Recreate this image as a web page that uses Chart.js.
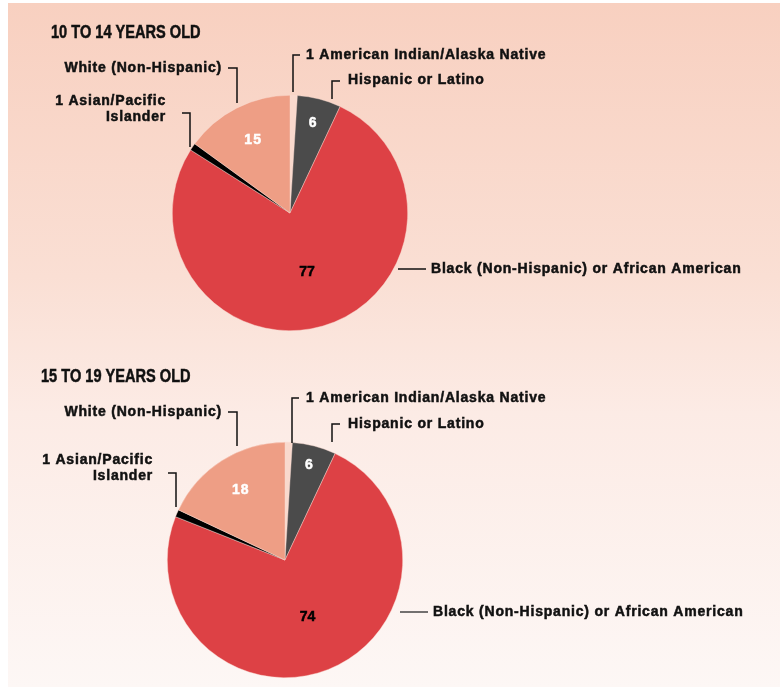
<!DOCTYPE html>
<html>
<head>
<meta charset="utf-8">
<script src="https://cdn.jsdelivr.net/npm/chart.js@4.4.1/dist/chart.umd.min.js"></script>
<style>
  html, body { margin: 0; padding: 0; background: #fff; }
  #page { position: relative; width: 780px; height: 688px; overflow: hidden; }
  #panel {
    position: absolute; left: 8px; top: 3px; width: 772px; height: 684px;
    background: linear-gradient(to bottom, #f8d0c0 0%, #fadfd4 40%, #fcebe5 60%, #fdf7f5 100%);
  }
  .box { position: absolute; left: 0; width: 780px; height: 344px; }
  #box1 { top: 0; }
  #box2 { top: 344px; }
</style>
</head>
<body>
<div id="page">
  <div id="panel"></div>
  <div class="box" id="box1"><canvas id="pieYoung"></canvas></div>
  <div class="box" id="box2"><canvas id="pieOlder"></canvas></div>
</div>
<script>
// Share of each group, percent
const groups = [
  'American Indian/Alaska Native',
  'Hispanic or Latino',
  'Black (Non-Hispanic) or African American',
  'Asian/Pacific Islander',
  'White (Non-Hispanic)'
];
const ages10to14 = [1, 6, 77, 1, 15];
const ages15to19 = [1, 6, 74, 1, 18];

const sliceColors = ['#f9d9cd', '#4b4b4b', '#dd4145', '#000000', '#ee9e85'];
const valueColors = ['#000', '#fff', '#000', '#000', '#fff'];

const labelFont = 'bold 14px "Liberation Sans", Arial, sans-serif';
const titleFont = 'bold 18px "Liberation Sans", Arial, sans-serif';

// heavier text: fill plus a thin stroke of the same colour
function boldText(ctx, t, x, y, color) {
  ctx.fillStyle = color;
  ctx.strokeStyle = color;
  ctx.lineWidth = 0.5;
  ctx.fillText(t, x, y);
  ctx.strokeText(t, x, y);
}

// Draws the title, the in-slice numbers and the callout labels
const calloutPlugin = {
  id: 'callouts',
  afterDraw(chart, args, opts) {
    const ctx = chart.ctx;
    const meta = chart.getDatasetMeta(0);
    const cx = meta.data[0].x, cy = meta.data[0].y, r = meta.data[0].outerRadius;
    const values = chart.data.datasets[0].data;

    ctx.save();
    // title, squeezed horizontally to a condensed look
    ctx.save();
    ctx.font = titleFont;
    ctx.textBaseline = 'middle';
    ctx.textAlign = 'left';
    ctx.translate(opts.titleX, opts.titleY);
    ctx.scale(0.81, 1);
    boldText(ctx, opts.title, 0, 0, '#111');
    ctx.restore();

    ctx.textBaseline = 'middle';
    // values inside slices
    meta.data.forEach((arc, i) => {
      const f = opts.valueRadius[i];
      if (!f) return;
      const mid = (arc.startAngle + arc.endAngle) / 2;
      const x = cx + Math.cos(mid) * r * f;
      const y = cy + Math.sin(mid) * r * f;
      ctx.font = labelFont;
      ctx.letterSpacing = valueColors[i] === '#fff' ? '1px' : '0px';
      ctx.textAlign = 'center';
      boldText(ctx, String(values[i]), x, y, valueColors[i]);
    });

    // callout lines and labels
    ctx.font = labelFont;
    ctx.letterSpacing = '0.8px';
    opts.items.forEach(item => {
      ctx.strokeStyle = item.lineColor || '#111';
      ctx.lineWidth = 1.5;
      ctx.beginPath();
      item.path.forEach((p, k) => {
        const px = cx + p[0], py = cy + p[1];
        if (k === 0) ctx.moveTo(px, py); else ctx.lineTo(px, py);
      });
      ctx.stroke();
      ctx.textAlign = item.align;
      item.lines.forEach((t, k) => {
        boldText(ctx, t, cx + item.tx, cy + item.ty + k * 16, '#111');
      });
    });
    ctx.restore();
  }
};

function makePie(id, values, pad, opts) {
  return new Chart(document.getElementById(id), {
    type: 'pie',
    data: {
      labels: groups,
      datasets: [{
        data: values,
        backgroundColor: sliceColors,
        borderWidth: 0.6,
        borderColor: 'rgba(250,220,210,0.7)'
      }]
    },
    options: {
      responsive: true,
      maintainAspectRatio: false,
      animation: false,
      layout: { padding: pad },
      plugins: {
        legend: { display: false },
        tooltip: { enabled: false },
        callouts: opts
      }
    },
    plugins: [calloutPlugin]
  });
}

makePie('pieYoung', ages10to14, { left: 172, right: 372, top: 95, bottom: 13 }, {
  title: '10 TO 14 YEARS OLD', titleX: 51, titleY: 33,
  valueRadius: [0, 0.79, 0.52, 0, 0.69],
  items: [
    { path: [[3, -121], [3, -158], [10, -158]], tx: 16, ty: -158, align: 'left', lines: ['1 American Indian/Alaska Native'] },
    { path: [[42, -114], [42, -132], [50, -132]], tx: 58, ty: -133, align: 'left', lines: ['Hispanic or Latino'] },
    { path: [[108, 56], [136, 56]], tx: 141, ty: 56, align: 'left', lines: ['Black (Non-Hispanic) or African American'] },
    { path: [[-108, -100], [-100, -100], [-100, -66]], tx: -124, ty: -112, align: 'right', lines: ['1 Asian/Pacific', 'Islander'] },
    { path: [[-62, -145], [-53, -145], [-53, -110]], tx: -68, ty: -145, align: 'right', lines: ['White (Non-Hispanic)'] }
  ]
});

makePie('pieOlder', ages15to19, { left: 167, right: 377, top: 98, bottom: 10 }, {
  title: '15 TO 19 YEARS OLD', titleX: 41, titleY: 33,
  valueRadius: [0, 0.83, 0.52, 0, 0.7],
  items: [
    { path: [[7, -117], [7, -162], [14, -162]], tx: 21, ty: -162, align: 'left', lines: ['1 American Indian/Alaska Native'] },
    { path: [[47, -118], [47, -136], [55, -136]], tx: 63, ty: -136, align: 'left', lines: ['Hispanic or Latino'] },
    { path: [[115, 52], [143, 52]], tx: 148, ty: 52, align: 'left', lineColor: '#444', lines: ['Black (Non-Hispanic) or African American'] },
    { path: [[-117, -87], [-109, -87], [-109, -53]], tx: -132, ty: -100, align: 'right', lines: ['1 Asian/Pacific', 'Islander'] },
    { path: [[-57, -148], [-48, -148], [-48, -114]], tx: -63, ty: -148, align: 'right', lines: ['White (Non-Hispanic)'] }
  ]
});
</script>
</body>
</html>
